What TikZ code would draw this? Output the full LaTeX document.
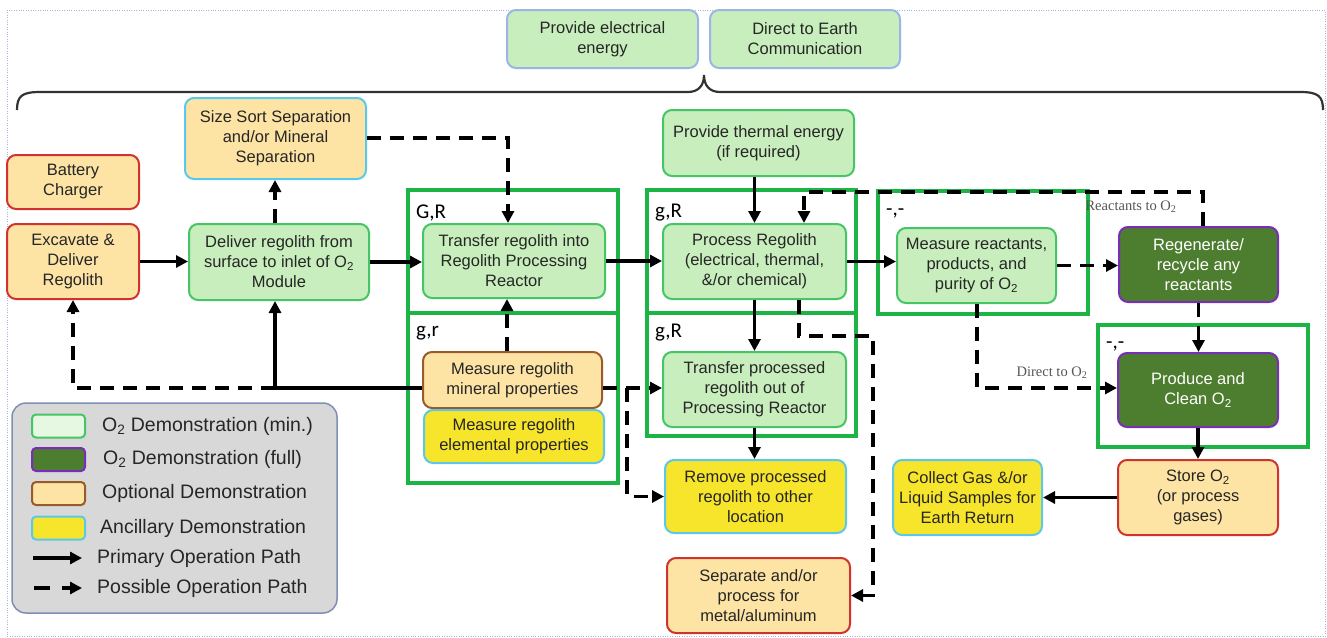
\documentclass[tikz,border=0pt]{standalone}
\usepackage{fontspec}
\setmainfont{Liberation Sans}
\newfontfamily\lblfont{Carlito}
\newfontfamily\notefont{Liberation Serif}
\usepackage{tikz}
\usetikzlibrary{arrows.meta}

\definecolor{boxgreen}{HTML}{C9EEBD}
\definecolor{linegreen}{HTML}{45C563}
\definecolor{lightblue}{HTML}{9BB5E5}
\definecolor{optfill}{HTML}{FDE4A5}
\definecolor{redline}{HTML}{D0332E}
\definecolor{brownline}{HTML}{9A5A2A}
\definecolor{cyanline}{HTML}{5AC8EB}
\definecolor{yellowfill}{HTML}{F7E52B}
\definecolor{darkgreen}{HTML}{4D7D2E}
\definecolor{purpleline}{HTML}{7A2EB8}
\definecolor{framegreen}{HTML}{1DB446}
\definecolor{legendgray}{HTML}{D8D8D8}
\definecolor{legendline}{HTML}{7F8FB5}
\definecolor{swatchgreen}{HTML}{E6F7E2}
\definecolor{textgray}{HTML}{262626}
\definecolor{notegray}{HTML}{555555}
\definecolor{dotblue}{HTML}{A8B8D8}

\begin{document}
\begin{tikzpicture}[x=1pt, y=-1pt,
    box/.style={rectangle, rounded corners=9pt, line width=2pt, align=center,
        inner sep=0pt, text=textgray, font=\fontsize{16.5}{20}\selectfont},
    demomin/.style={box, fill=boxgreen, draw=linegreen},
    demofull/.style={box, fill=darkgreen, draw=purpleline, text=white},
    optional/.style={box, fill=optfill, draw=redline},
    ancillary/.style={box, fill=yellowfill, draw=cyanline},
    support/.style={box, fill=boxgreen, draw=lightblue},
    frame/.style={rectangle, draw=framegreen, line width=3.5pt, inner sep=0pt},
    framelabel/.style={font=\lblfont\fontsize{21}{21}\selectfont, inner sep=0pt, anchor=west},
    primary/.style={line width=3.4pt, -{Triangle[length=12pt,width=12pt]}},
    possible/.style={primary, dash pattern=on 14pt off 9pt},
    pathnote/.style={font=\notefont\fontsize{14.5}{14.5}\selectfont, text=notegray, inner sep=1pt},
    swatch/.style={rectangle, rounded corners=4pt, line width=2pt, minimum width=53pt, minimum height=23pt},
    legendtext/.style={anchor=west, inner sep=0pt, text=textgray, font=\fontsize{19.5}{22}\selectfont}
    ]

    \useasboundingbox (0,0) rectangle (1327,637);
    \draw[dotted, draw=dotblue] (7,10) rectangle (1325,636);

    % support functions over the brace
    \node[support, minimum width=191pt, minimum height=58pt] (elec) at (602.5,39) {Provide electrical\\energy};
    \node[support, minimum width=190pt, minimum height=58pt] (earth) at (805,39) {Direct to Earth\\Communication};
    \draw[line width=2.2pt, draw=black!80] (17,110) .. controls (17,96) and (22,92) .. (40,92) -- (688,92)
        .. controls (698,92) and (704,86) .. (704,75) .. controls (704,86) and (710,92) .. (720,92)
        -- (1300,92) .. controls (1318,92) and (1323,96) .. (1323,110);

    % green frames
    \node[frame, minimum width=210pt, minimum height=123pt] (fGR) at (513,251.5) {};
    \node[frame, minimum width=210pt, minimum height=170pt] (fgr) at (513,398) {};
    \node[frame, minimum width=209pt, minimum height=123pt] (fgRa) at (751.5,251.5) {};
    \node[frame, minimum width=209pt, minimum height=123pt] (fgRb) at (751.5,374.5) {};
    \node[frame, minimum width=210pt, minimum height=123pt] (fmeas) at (983,252.5) {};
    \node[frame, minimum width=210pt, minimum height=122pt] (fprod) at (1203,386) {};

    \node[framelabel] (lGR) at (416,213) {G,R};
    \node[framelabel] (lgr) at (416,333) {g,r};
    \node[framelabel] (lgRa) at (655,213) {g,R};
    \node[framelabel] (lgRb) at (655,333) {g,R};
    \node[framelabel] (lmeas) at (886,213) {-,-};
    \node[framelabel] (lprod) at (1106,346) {-,-};

    % process boxes
    \node[optional, minimum width=132pt, minimum height=54pt] (battery) at (73,182) {Battery\\Charger};
    \node[optional, minimum width=132pt, minimum height=75pt] (excavate) at (73,261.5) {Excavate \&\\Deliver\\Regolith};
    \node[optional, draw=cyanline, minimum width=181pt, minimum height=81pt] (sizesort) at (275.5,138.5) {Size Sort Separation\\and/or Mineral\\Separation};
    \node[demomin, minimum width=180pt, minimum height=76pt] (deliver) at (279,262) {Deliver regolith from\\surface to inlet of O\textsubscript{2}\\Module};
    \node[demomin, minimum width=182pt, minimum height=74pt] (transfer) at (514,261) {Transfer regolith into\\Regolith Processing\\Reactor};
    \node[optional, draw=brownline, minimum width=179pt, minimum height=56pt] (mineral) at (512.5,380) {Measure regolith\\mineral properties};
    \node[ancillary, minimum width=180pt, minimum height=53pt] (elemental) at (514,436.5) {Measure regolith\\elemental properties};
    \node[demomin, minimum width=191pt, minimum height=66pt] (thermal) at (758.5,143) {Provide thermal energy\\(if required)};
    \node[demomin, minimum width=183pt, minimum height=75pt] (process) at (754.5,261.5) {Process Regolith\\(electrical, thermal,\\\&/or chemical)};
    \node[demomin, minimum width=183pt, minimum height=75pt] (transout) at (754.5,389.5) {Transfer processed\\regolith out of\\Processing Reactor};
    \node[ancillary, minimum width=181pt, minimum height=73pt] (remove) at (755.5,496.5) {Remove processed\\regolith to other\\location};
    \node[optional, minimum width=183pt, minimum height=75pt] (separate) at (758.5,595.5) {Separate and/or\\process for\\metal/aluminum};
    \node[demomin, minimum width=159pt, minimum height=75pt] (measure) at (976.5,265.5) {Measure reactants,\\products, and\\purity of O\textsubscript{2}};
    \node[demofull, minimum width=159pt, minimum height=75pt] (regen) at (1198.5,264.5) {Regenerate/\\recycle any\\reactants};
    \node[demofull, minimum width=160pt, minimum height=74pt] (produce) at (1198,390) {Produce and\\Clean O\textsubscript{2}};
    \node[optional, minimum width=160pt, minimum height=75pt] (store) at (1198,497.5) {Store O\textsubscript{2}\\(or process\\gases)};
    \node[ancillary, minimum width=149pt, minimum height=75pt] (collect) at (967.5,497.5) {Collect Gas \&/or\\Liquid Samples for\\Earth Return};

    % turning points
    \coordinate (jn) at (275,388);
    \coordinate (ss) at (508,138);
    \coordinate (mu) at (507,0);
    \coordinate (mb) at (627,388);
    \coordinate (rt) at (804,192);
    \coordinate (rr) at (1203,0);
    \coordinate (pb) at (799,336);
    \coordinate (pc) at (873,336);
    \coordinate (md) at (977,388);

    % primary paths
    \draw[primary] (excavate.east) -- (excavate.east -| deliver.west);
    \draw[primary] (deliver.east) -- (deliver.east -| transfer.west);
    \draw[primary] (transfer.east) -- (transfer.east -| process.west);
    \draw[primary] (process.east) -- (process.east -| measure.west);
    \draw[primary] (process.north |- thermal.south) -- (process.north);
    \draw[primary] (process.south) -- (process.south |- transout.north);
    \draw[primary] (transout.south) -- (transout.south |- remove.north);
    \draw[primary] (produce.south) -- (produce.south |- store.north);
    \draw[primary] (store.west) -- (store.west -| collect.east);
    \draw[primary] (mineral.west |- jn) -- (jn) -- (jn |- deliver.south);

    % possible paths
    \draw[possible] (jn) -- (jn -| excavate.south) -- (excavate.south);
    \draw[possible] (deliver.north -| jn) -- (jn |- sizesort.south);
    \draw[possible] (sizesort.east |- ss) -- (ss) -- (ss |- transfer.north);
    \draw[possible] (mineral.north -| mu) -- (transfer.south -| mu);
    \draw[possible] (mineral.east |- mb) -- (mb -| transout.west);
    \draw[possible] (mb) -- (mb |- remove.west) -- (remove.west);
    \draw[possible] (regen.north -| rr) -- (rr |- rt) -- (rt) -- (rt |- process.north);
    \draw[possible] (process.south -| pb) -- (pb) -- (pc) -- (pc |- separate.east) -- (separate.east);
    \draw[possible] (measure.south -| md) -- (md) -- (md -| produce.west);
    \draw[possible] (measure.east) -- (measure.east -| regen.west);
    \draw[possible] (regen.south) -- (regen.south |- produce.north);

    \node[pathnote] (rnote) at (1131,207) {Reactants to O\textsubscript{2}};
    \node[pathnote] (dnote) at (1052,373) {Direct to O\textsubscript{2}};

    % legend
    \node[rectangle, rounded corners=14pt, fill=legendgray, draw=legendline, line width=1.5pt,
        minimum width=325pt, minimum height=210pt] (legend) at (174.5,508) {};
    \node[swatch, fill=swatchgreen, draw=linegreen] (swmin) at (58.5,426) {};
    \node[swatch, fill=darkgreen, draw=purpleline] (swfull) at (58.5,459.5) {};
    \node[swatch, fill=optfill, draw=brownline] (swopt) at (58.5,493.5) {};
    \node[swatch, fill=yellowfill, draw=cyanline] (swanc) at (58.5,528) {};
    \node[legendtext] (tmin) at (102,426) {O\textsubscript{2} Demonstration (min.)};
    \node[legendtext] (tfull) at (103,459.5) {O\textsubscript{2} Demonstration (full)};
    \node[legendtext] (topt) at (102,493.5) {Optional Demonstration};
    \node[legendtext] (tanc) at (100,528) {Ancillary Demonstration};
    \coordinate (pa) at (33,558);
    \coordinate (pz) at (82,558);
    \coordinate (qa) at (34,588);
    \coordinate (qz) at (82,588);
    \draw[primary] (pa) -- (pz);
    \draw[primary, dash pattern=on 16pt off 12pt] (qa) -- (qz);
    \node[legendtext] (tprim) at (97,558) {Primary Operation Path};
    \node[legendtext] (tposs) at (97,588) {Possible Operation Path};

\end{tikzpicture}
\end{document}
